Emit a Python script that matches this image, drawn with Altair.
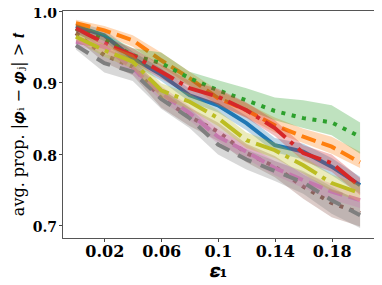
import altair as alt
import pandas as pd

eps = [0.00, 0.02, 0.04, 0.06, 0.08, 0.10, 0.12, 0.14, 0.16, 0.18, 0.20]

blue_m = [0.979, 0.966, 0.934, 0.911, 0.882, 0.868, 0.843, 0.812, 0.803, 0.782, 0.756]
blue_lo = [0.974, 0.958, 0.925, 0.902, 0.873, 0.858, 0.833, 0.802, 0.792, 0.770, 0.744]
blue_hi = [0.984, 0.974, 0.943, 0.920, 0.891, 0.878, 0.853, 0.822, 0.814, 0.794, 0.768]

orange_m = [0.983, 0.973, 0.959, 0.931, 0.906, 0.878, 0.861, 0.840, 0.824, 0.810, 0.788]
orange_lo = [0.978, 0.966, 0.950, 0.922, 0.896, 0.868, 0.851, 0.830, 0.815, 0.800, 0.780]
orange_hi = [0.988, 0.979, 0.966, 0.942, 0.915, 0.889, 0.871, 0.851, 0.835, 0.824, 0.803]

green_m = [0.975, 0.960, 0.938, 0.927, 0.906, 0.889, 0.875, 0.860, 0.850, 0.844, 0.824]
green_lo = [0.968, 0.952, 0.929, 0.915, 0.895, 0.877, 0.862, 0.847, 0.836, 0.826, 0.800]
green_hi = [0.982, 0.968, 0.948, 0.942, 0.915, 0.903, 0.892, 0.879, 0.875, 0.868, 0.844]

red_m = [0.976, 0.955, 0.938, 0.915, 0.892, 0.880, 0.861, 0.836, 0.801, 0.787, 0.754]
red_lo = [0.970, 0.946, 0.928, 0.905, 0.882, 0.869, 0.850, 0.825, 0.790, 0.775, 0.742]
red_hi = [0.982, 0.964, 0.948, 0.925, 0.902, 0.891, 0.872, 0.847, 0.812, 0.799, 0.766]

brown_m = [0.969, 0.938, 0.922, 0.878, 0.852, 0.831, 0.801, 0.782, 0.754, 0.731, 0.717]
brown_lo = [0.962, 0.928, 0.910, 0.865, 0.839, 0.818, 0.788, 0.767, 0.737, 0.711, 0.698]
brown_hi = [0.976, 0.948, 0.934, 0.891, 0.865, 0.844, 0.814, 0.797, 0.771, 0.751, 0.736]

pink_m = [0.957, 0.950, 0.920, 0.885, 0.857, 0.824, 0.803, 0.780, 0.763, 0.747, 0.735]
pink_lo = [0.951, 0.942, 0.911, 0.875, 0.847, 0.814, 0.793, 0.770, 0.752, 0.736, 0.724]
pink_hi = [0.963, 0.958, 0.929, 0.895, 0.867, 0.834, 0.813, 0.790, 0.774, 0.758, 0.746]

gray_m = [0.952, 0.927, 0.915, 0.877, 0.850, 0.813, 0.792, 0.776, 0.760, 0.735, 0.714]
gray_lo = [0.946, 0.914, 0.902, 0.863, 0.836, 0.799, 0.778, 0.762, 0.744, 0.716, 0.696]
gray_hi = [0.958, 0.940, 0.928, 0.891, 0.864, 0.827, 0.806, 0.790, 0.776, 0.754, 0.732]

olive_m = [0.964, 0.945, 0.929, 0.889, 0.873, 0.850, 0.819, 0.805, 0.784, 0.759, 0.745]
olive_lo = [0.958, 0.936, 0.919, 0.879, 0.862, 0.839, 0.808, 0.794, 0.772, 0.747, 0.733]
olive_hi = [0.970, 0.954, 0.939, 0.899, 0.884, 0.861, 0.830, 0.816, 0.796, 0.771, 0.757]

series = [
    ("blue", "#1f77b4", blue_m, blue_lo, blue_hi, []),
    ("orange", "#ff7f0e", orange_m, orange_lo, orange_hi, [14.8, 6.4]),
    ("green", "#2ca02c", green_m, green_lo, green_hi, [4, 6.6]),
    ("red", "#d62728", red_m, red_lo, red_hi, [25.6, 6.4, 4, 6.4]),
    ("brown", "#8c564b", brown_m, brown_lo, brown_hi, [4, 6.6]),
    ("pink", "#e377c2", pink_m, pink_lo, pink_hi, [14.8, 6.4]),
    ("gray", "#7f7f7f", gray_m, gray_lo, gray_hi, [14.8, 10]),
    ("olive", "#bcbd22", olive_m, olive_lo, olive_hi, [25.6, 6.4, 4, 6.4]),
]

xscale = alt.Scale(domain=[-0.0098, 0.2098], nice=False, zero=False)
yscale = alt.Scale(domain=[0.682, 1.0015], nice=False, zero=False)

xaxis = alt.Axis(values=[0.02, 0.06, 0.1, 0.14, 0.18], format="~g", grid=False,
                 title="𝜺₁", titleFontSize=18, titleFont="DejaVu Serif",
                 titleFontWeight="bold", titleColor="black", titlePadding=3,
                 labelFont="DejaVu Serif", labelFontWeight="bold", labelFontSize=16,
                 labelColor="black", labelPadding=2, tickSize=3.5, tickColor="#444",
                 domainColor="#555", labelFlush=False)
yaxis = alt.Axis(values=[0.7, 0.8, 0.9, 1.0], format=".1f", grid=False,
                 title="avg. prop. |𝝋ᵢ − 𝝋ⱼ| > 𝒕", titleFontSize=16,
                 titleFont="DejaVu Serif", titleFontWeight="normal", titleColor="black",
                 titlePadding=6, labelFont="DejaVu Serif", labelFontWeight="bold",
                 labelFontSize=14, labelColor="black", labelPadding=2, labelOffset=2.5,
                 tickSize=3.5, tickColor="#444", domainColor="#555", labelFlush=False)

layers = []
for name, color, m, lo, hi, dash in series:
    df = pd.DataFrame({"eps": eps, "m": m, "lo": lo, "hi": hi})
    band = alt.Chart(df).mark_area(color=color, opacity=0.3).encode(
        x=alt.X("eps:Q", scale=xscale, axis=xaxis),
        y=alt.Y("lo:Q", scale=yscale, axis=yaxis),
        y2="hi:Q",
    )
    line_kwargs = dict(color=color, strokeWidth=4, strokeCap="butt")
    if dash:
        line_kwargs["strokeDash"] = dash
    line = alt.Chart(df).mark_line(**line_kwargs).encode(
        x=alt.X("eps:Q", scale=xscale, axis=xaxis),
        y=alt.Y("m:Q", scale=yscale, axis=yaxis),
    )
    layers.append(band)
    layers.append(line)

chart = alt.layer(*layers).resolve_axis(x="shared", y="shared").properties(
    width=312, height=228,
    autosize=alt.AutoSizeParams(type="none"),
    padding={"left": 54, "top": 2, "right": 0, "bottom": 45},
).configure_view(stroke="#555", strokeWidth=1)

chart.save("out.html", embed_options={"renderer": "svg", "actions": False})
